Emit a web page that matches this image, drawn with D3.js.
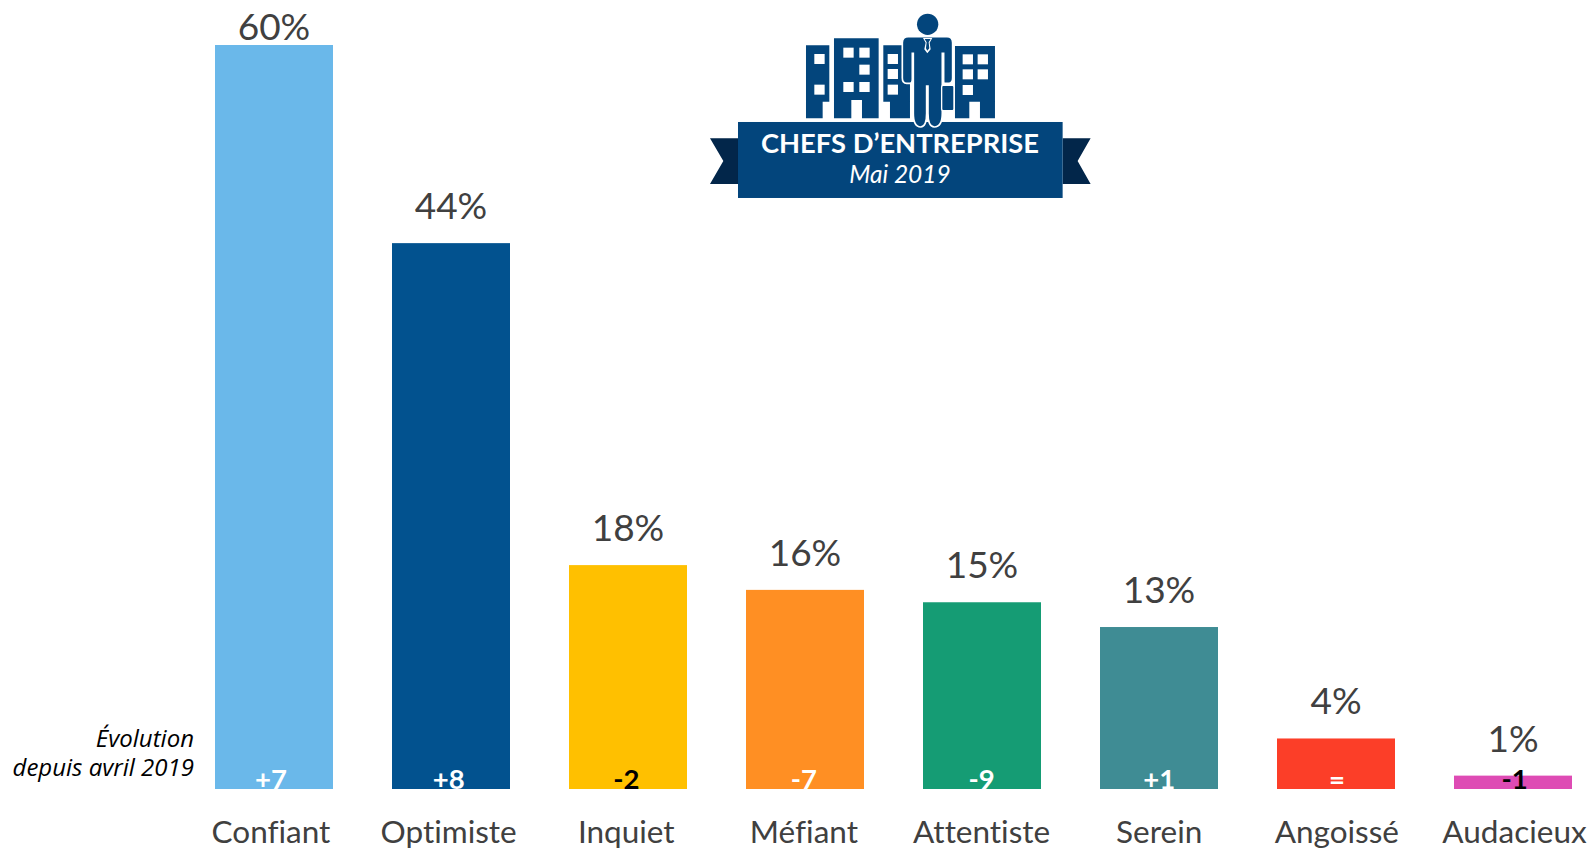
<!DOCTYPE html>
<html><head><meta charset="utf-8">
<script src="https://cdn.jsdelivr.net/npm/d3@7/dist/d3.min.js"></script>
<style>html,body{margin:0;padding:0;background:#fff;overflow:hidden}svg{display:block}text{font-variant-ligatures:none}</style>
</head><body><svg id="chart" width="1590" height="849"></svg>
<script>
const categories = ["Confiant","Optimiste","Inquiet","Méfiant","Attentiste","Serein","Angoissé","Audacieux"];
const values = [60,44,18,16,15,13,4,1];
const evolutions = ["+7","+8","-2","-7","-9","+1","=","-1"];
const barColors = ["#6AB8EA","#02528F","#FFC000","#FF8F23","#159C74","#3F8C94","#FC3E28","#DE4BB4"];
const evolutionColors = ["#fff","#fff","#000","#fff","#fff","#fff","#fff","#000"];
const svg = d3.select("#chart");
const font = "Lato, sans-serif";
const x = d3.scaleBand().domain(categories).range([215,1572]).paddingInner(59/177).paddingOuter(0);
const xLabel = d3.scalePoint().domain(categories).range([271,1514.5]);
const y = d3.scaleLinear().domain([-0.08,60]).range([789,45]);
const cx = d => x(d)+x.bandwidth()/2;

svg.selectAll("rect.bar").data(categories).join("rect").attr("class","bar")
  .attr("x",d=>x(d)).attr("width",x.bandwidth())
  .attr("y",(d,i)=>y(values[i])).attr("height",(d,i)=>y.range()[0]-y(values[i]))
  .attr("fill",(d,i)=>barColors[i]);
svg.selectAll("text.val").data(categories).join("text").attr("class","val")
  .attr("x",cx).attr("y",(d,i)=>Math.max(40,y(values[i])-24))
  .attr("text-anchor","middle").attr("font-family",font).attr("font-size",37).attr("fill","#404040")
  .text((d,i)=>values[i]+"%");
svg.selectAll("text.evo").data(categories).join("text").attr("class","evo")
  .attr("x",d=>xLabel(d)).attr("y",788.5)
  .attr("text-anchor","middle").attr("font-family",font).attr("font-weight",700).attr("font-size",27.5)
  .attr("fill",(d,i)=>evolutionColors[i]).text((d,i)=>evolutions[i]);
svg.selectAll("text.cat").data(categories).join("text").attr("class","cat")
  .attr("x",d=>xLabel(d)).attr("y",843)
  .attr("text-anchor","middle").attr("font-family",font).attr("font-size",31.5).attr("fill","#404040")
  .text(d=>d);
svg.append("text").attr("x",194).attr("y",747).attr("text-anchor","end")
  .attr("font-family","'Open Sans',sans-serif").attr("font-style","italic").attr("font-size",24).attr("fill","#000").text("Évolution");
svg.append("text").attr("x",194).attr("y",776).attr("text-anchor","end")
  .attr("font-family","'Open Sans',sans-serif").attr("font-style","italic").attr("font-size",24).attr("fill","#000").text("depuis avril 2019");

// Badge, drawn in the coordinates of a 3x crop at (690,0)
const g = svg.append("g").attr("transform","translate(690,0) scale(0.3333)");
const navy="#03457C", dark="#02264A";
g.append("path").attr("fill",navy).attr("d",
 "M348 136H418V305H398V355H348Z M432 115H566V355H516V300H484V355H432Z M580 136H660V355H600V305H580Z M795 138H915V355H870V305H838V355H795Z");
const windows=[[373,162],[373,254],[460,143],[508,143],[508,194],[460,246],[508,246],[593,162],[593,207],[593,254],[818,163],[863,163],[818,208],[863,208],[818,255]];
g.selectAll("rect.w").data(windows).join("rect").attr("class","w").attr("x",d=>d[0]).attr("y",d=>d[1]).attr("width",31).attr("height",30).attr("fill","#fff");
g.append("path").attr("fill",dark).attr("d","M60 415H144V552H60L100 483Z M1118 415H1202L1163 483L1202 552H1118Z");
g.append("rect").attr("x",144).attr("y",366).attr("width",974).attr("height",228).attr("fill",navy);
g.append("path").attr("fill",navy).attr("stroke","#fff").attr("stroke-width",5).attr("d",
 "M655 110H771Q788 110 788 128V234Q788 250 776 250H762Q761 250 761 236V160H757V340Q757 381 733 381Q714 381 714 340V258H710V340Q710 381 692 381Q670 381 670 340V160H667V236Q667 250 660 250H650Q637 250 637 234V128Q637 110 655 110Z");
g.append("rect").attr("x",755).attr("y",256).attr("width",37).attr("height",76).attr("rx",5).attr("fill",navy).attr("stroke","#fff").attr("stroke-width",4);
g.append("circle").attr("cx",713).attr("cy",73).attr("r",32).attr("fill",navy);
g.append("path").attr("fill","#fff").attr("d","M699 114H727L719 128L722 148L712 160L703 148L707 128Z");
g.append("path").attr("fill",navy).attr("d","M704 117H722L716 127L718 145L712 152L708 145L710 127Z");
svg.append("text").attr("x",900).attr("y",153).attr("text-anchor","middle").attr("font-family",font).attr("font-weight",700).attr("font-size",27.3).attr("fill","#fff").text("CHEFS D’ENTREPRISE");
svg.append("text").attr("x",900).attr("y",182.5).attr("text-anchor","middle").attr("font-family",font).attr("font-style","italic").attr("font-size",24.5).attr("fill","#fff").text("Mai 2019");
</script></body></html>
